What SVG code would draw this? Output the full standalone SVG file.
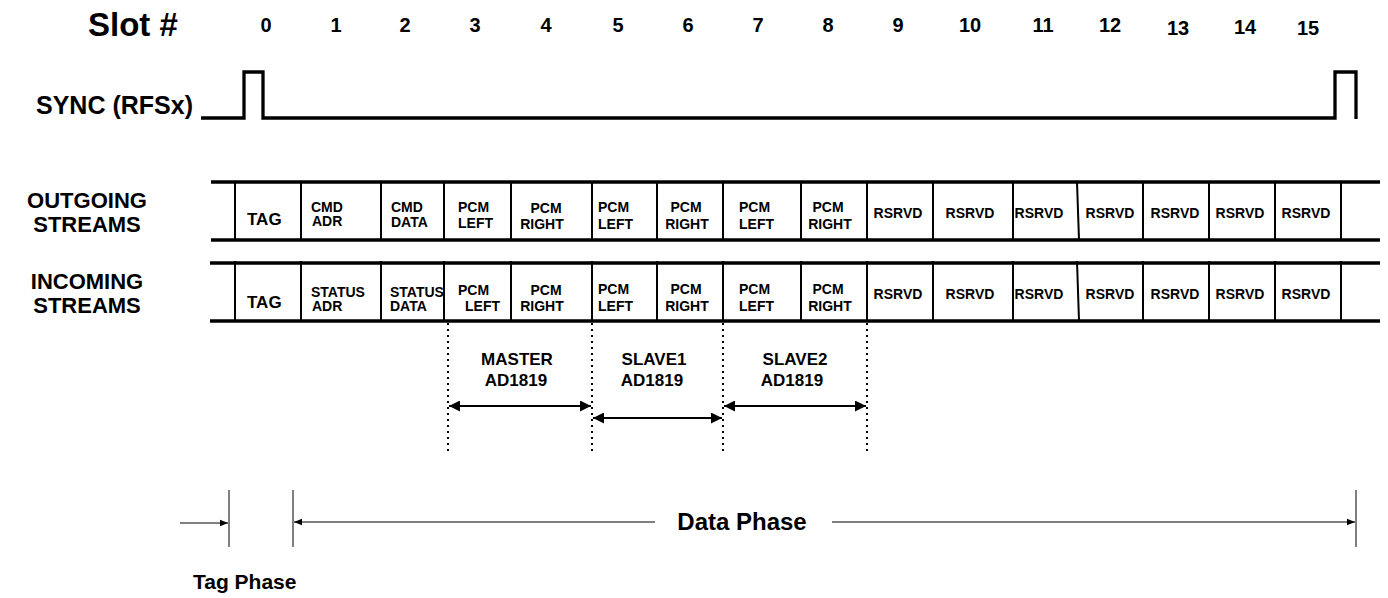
<svg xmlns="http://www.w3.org/2000/svg" width="1388" height="598" viewBox="0 0 1388 598">
<style>
text{font-family:"Liberation Sans",Arial,sans-serif;font-weight:bold;fill:#000}
.hd{font-size:33px}
.num{font-size:20px;text-anchor:middle}
.lbl{font-size:22px}
.cell{font-size:14px}
.tag{font-size:17px}
.rs{font-size:14px;text-anchor:middle}
.dev{font-size:17px;text-anchor:middle}
.ph{font-size:21px}
.ph2{font-size:24px;text-anchor:middle}
.thick{stroke:#000;stroke-width:3.3;fill:none}
.sep{stroke:#000;stroke-width:2;fill:none}
.dot{stroke:#000;stroke-width:2;stroke-dasharray:2 4;fill:none}
.arr{stroke:#000;stroke-width:2;fill:none}
.thin{stroke:#000;stroke-width:1;fill:none}
</style>
<defs>
<marker id="ah" viewBox="0 0 10 10" refX="10" refY="5" markerWidth="6.5" markerHeight="5.5" orient="auto-start-reverse" markerUnits="strokeWidth">
<path d="M0,0 L10,5 L0,10 Z" fill="#000"/>
</marker>
<marker id="ahs" viewBox="0 0 10 10" refX="10" refY="5" markerWidth="10" markerHeight="8" orient="auto-start-reverse" markerUnits="userSpaceOnUse">
<path d="M0,1 L10,5 L0,9 Z" fill="#000"/>
</marker>
</defs>
<rect width="1388" height="598" fill="#fff"/>

<g id="header">
<text class="hd" x="88" y="36">Slot #</text>
<text class="num" x="266" y="32">0</text>
<text class="num" x="336" y="32">1</text>
<text class="num" x="405" y="32">2</text>
<text class="num" x="475" y="32">3</text>
<text class="num" x="546" y="32">4</text>
<text class="num" x="618" y="32">5</text>
<text class="num" x="688" y="32">6</text>
<text class="num" x="758" y="32">7</text>
<text class="num" x="828" y="32">8</text>
<text class="num" x="898" y="32">9</text>
<text class="num" x="970" y="32">10</text>
<text class="num" x="1043" y="32">11</text>
<text class="num" x="1110" y="32">12</text>
<text class="num" x="1178" y="35">13</text>
<text class="num" x="1245" y="34">14</text>
<text class="num" x="1308" y="35">15</text>
</g>

<g id="sync">
<text x="36" y="114" font-size="25">SYNC (RFSx)</text>
<path class="thick" d="M201,118 H244 V72 H263 V118 H1335 V72 H1356 V119"/>
</g>

<g id="outgoing">
<text class="lbl" text-anchor="middle"><tspan x="87" y="208">OUTGOING</tspan><tspan x="87" y="232">STREAMS</tspan></text>
<path class="thick" d="M211,182 H1380 M211,240 H1380"/>
<path class="sep" d="M235,182V240 M301,182V240 M381,182V240 M444,182V240 M511,182V240 M592,182V240 M657,182V240 M723,182V240 M801,182V240 M867,182V240 M933,182V240 M1013,182V240 M1077,182L1079,240 M1143,182V240 M1209,182V240 M1275,182V240 M1341,182V240"/>
<text class="tag" x="247" y="225">TAG</text>
<text class="cell"><tspan x="311" y="212">CMD</tspan><tspan x="312" y="226">ADR</tspan></text>
<text class="cell"><tspan x="391" y="212">CMD</tspan><tspan x="391" y="227">DATA</tspan></text>
<text class="cell"><tspan x="458" y="212">PCM</tspan><tspan x="458" y="228">LEFT</tspan></text>
<text class="cell" text-anchor="middle"><tspan x="546" y="213">PCM</tspan><tspan x="542" y="229">RIGHT</tspan></text>
<text class="cell"><tspan x="598" y="212">PCM</tspan><tspan x="598" y="229">LEFT</tspan></text>
<text class="cell" text-anchor="middle"><tspan x="686" y="212">PCM</tspan><tspan x="687" y="229">RIGHT</tspan></text>
<text class="cell"><tspan x="739" y="212">PCM</tspan><tspan x="739" y="229">LEFT</tspan></text>
<text class="cell" text-anchor="middle"><tspan x="828" y="212">PCM</tspan><tspan x="830" y="229">RIGHT</tspan></text>
<text class="rs" x="898" y="218">RSRVD</text>
<text class="rs" x="970" y="218">RSRVD</text>
<text class="rs" x="1039" y="218">RSRVD</text>
<text class="rs" x="1110" y="218">RSRVD</text>
<text class="rs" x="1175" y="218">RSRVD</text>
<text class="rs" x="1240" y="218">RSRVD</text>
<text class="rs" x="1306" y="218">RSRVD</text>
</g>

<g id="incoming">
<text class="lbl" text-anchor="middle"><tspan x="87" y="289">INCOMING</tspan><tspan x="87" y="313">STREAMS</tspan></text>
<path class="thick" d="M210,263 H1380 M210,321 H1380"/>
<path class="sep" d="M235,261V321 M301,261V321 M381,261V321 M444,261V321 M511,261V321 M592,261V321 M657,261V321 M723,261V321 M801,261V321 M867,261V321 M933,261V321 M1013,261V321 M1077,261L1079,321 M1143,261V321 M1209,261V321 M1275,261V321 M1341,261V321"/>
<text class="tag" x="247" y="308">TAG</text>
<text class="cell"><tspan x="311" y="297">STATUS</tspan><tspan x="312" y="311">ADR</tspan></text>
<text class="cell"><tspan x="390" y="297">STATUS</tspan><tspan x="390" y="311">DATA</tspan></text>
<text class="cell"><tspan x="458" y="295">PCM</tspan><tspan x="465" y="311">LEFT</tspan></text>
<text class="cell" text-anchor="middle"><tspan x="546" y="295">PCM</tspan><tspan x="542" y="311">RIGHT</tspan></text>
<text class="cell"><tspan x="598" y="294">PCM</tspan><tspan x="598" y="311">LEFT</tspan></text>
<text class="cell" text-anchor="middle"><tspan x="686" y="294">PCM</tspan><tspan x="687" y="311">RIGHT</tspan></text>
<text class="cell"><tspan x="739" y="294">PCM</tspan><tspan x="739" y="311">LEFT</tspan></text>
<text class="cell" text-anchor="middle"><tspan x="828" y="294">PCM</tspan><tspan x="830" y="311">RIGHT</tspan></text>
<text class="rs" x="898" y="299">RSRVD</text>
<text class="rs" x="970" y="299">RSRVD</text>
<text class="rs" x="1039" y="299">RSRVD</text>
<text class="rs" x="1110" y="299">RSRVD</text>
<text class="rs" x="1175" y="299">RSRVD</text>
<text class="rs" x="1240" y="299">RSRVD</text>
<text class="rs" x="1306" y="299">RSRVD</text>
</g>

<g id="devices">
<text class="dev"><tspan x="517" y="365">MASTER</tspan><tspan x="516" y="386">AD1819</tspan></text>
<text class="dev"><tspan x="654" y="365">SLAVE1</tspan><tspan x="652" y="386">AD1819</tspan></text>
<text class="dev"><tspan x="795" y="365">SLAVE2</tspan><tspan x="792" y="386">AD1819</tspan></text>
</g>

<g id="connectors">
<path class="dot" d="M448,323V452 M592,323V452 M723,323V452 M867,323V452"/>
<line class="arr" x1="449" y1="406" x2="591" y2="406" marker-start="url(#ah)" marker-end="url(#ah)"/>
<line class="arr" x1="593" y1="418" x2="722" y2="418" marker-start="url(#ah)" marker-end="url(#ah)"/>
<line class="arr" x1="724" y1="406" x2="866" y2="406" marker-start="url(#ah)" marker-end="url(#ah)"/>
<path class="thin" d="M229,490V547 M293,490V547 M1356,490V547"/>
<line class="thin" x1="180" y1="523" x2="228" y2="523" marker-end="url(#ahs)"/>
<line class="thin" x1="294" y1="522" x2="655" y2="522" marker-start="url(#ahs)"/>
<line class="thin" x1="832" y1="522" x2="1355" y2="522" marker-end="url(#ahs)"/>
</g>

<g id="phases">
<text class="ph2" x="742" y="530">Data Phase</text>
<text class="ph" x="193" y="589">Tag Phase</text>
</g>
</svg>
